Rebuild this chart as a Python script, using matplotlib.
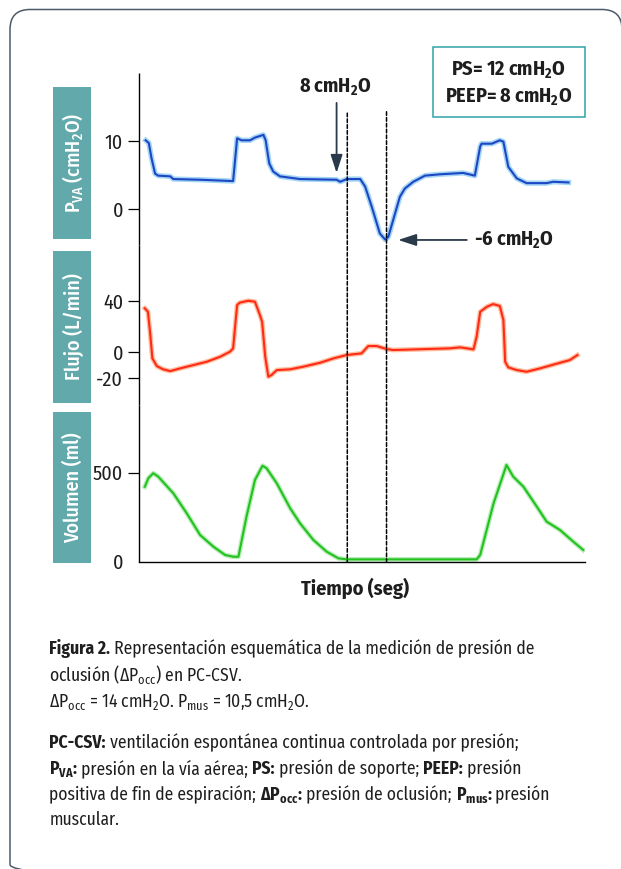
import matplotlib
matplotlib.use('Agg')
import matplotlib.pyplot as plt
from matplotlib import font_manager
from matplotlib.patches import Rectangle, FancyBboxPatch, ConnectionPatch
from matplotlib.transforms import Affine2D

W, H = 621, 869

# condensed humanist font, closest to the original typesetting
names = {f.name for f in font_manager.fontManager.ttflist}
FONT = 'DejaVu Sans'
for cand in ['Fira Sans Condensed', 'PT Sans Narrow', 'Roboto Condensed']:
    if cand in names:
        FONT = cand
        break
plt.rcParams['font.family'] = [FONT, 'DejaVu Sans']
plt.rcParams['mathtext.fontset'] = 'custom'
plt.rcParams['mathtext.rm'] = FONT

# ---------------- data ----------------
# time axis runs 0..10 (arbitrary seconds)
t_pres = [0.15, 0.22, 0.28, 0.36, 0.43, 0.70, 0.77, 1.37, 2.11, 2.20, 2.30, 2.49, 2.60, 2.79,
          2.84, 2.92, 3.01, 3.16, 3.61, 4.43, 4.51, 4.66, 4.96, 5.07, 5.22, 5.40, 5.52, 5.59,
          5.70, 5.85, 5.96, 6.15, 6.41, 6.75, 7.27, 7.53, 7.65, 7.68, 7.91, 8.09, 8.17, 8.28,
          8.47, 8.69, 9.14, 9.29, 9.63]
pres = [10.1, 9.7, 7.5, 5.2, 4.9, 4.8, 4.4, 4.3, 4.1, 10.4, 10.1, 10.1, 10.5, 10.9,
        10.1, 6.7, 5.5, 4.8, 4.4, 4.3, 4.0, 4.4, 4.4, 3.3, 0.3, -3.6, -4.5, -4.1,
        -1.6, 1.8, 3.0, 4.0, 4.9, 5.1, 5.3, 4.9, 9.2, 9.6, 9.6, 10.1, 9.9, 6.2,
        4.5, 3.8, 3.8, 4.0, 3.9]

t_flow = [0.13, 0.20, 0.25, 0.30, 0.40, 0.54, 0.70, 0.92, 1.22, 1.52, 1.82, 2.04, 2.11, 2.20,
          2.26, 2.45, 2.60, 2.71, 2.76, 2.83, 2.90, 2.97, 3.09, 3.39, 3.68, 4.06, 4.36, 4.65,
          4.99, 5.14, 5.33, 5.55, 5.70, 6.97, 7.20, 7.50, 7.57, 7.65, 7.80, 7.94, 8.09, 8.17,
          8.21, 8.28, 8.47, 8.69, 8.99, 9.44, 9.66, 9.83]
flow = [34.3, 31.6, 14.8, -4.7, -10.7, -13.2, -14.6, -12.5, -9.9, -7.3, -3.4, 0.5, 3.1, 36.9,
        38.7, 40.2, 39.4, 29.1, 23.9, -3.4, -19.0, -17.7, -13.8, -13.2, -11.2, -8.1, -4.7, -2.1,
        -0.8, 4.9, 4.9, 2.6, 1.8, 3.1, 3.9, 2.3, 12.2, 31.6, 35.5, 37.6, 36.1, 25.2,
        -7.3, -11.7, -13.8, -15.1, -12.5, -8.1, -6.0, -2.1]

t_vol = [0.13, 0.21, 0.32, 0.43, 0.77, 1.07, 1.37, 1.67, 1.93, 2.11, 2.23, 2.41, 2.60, 2.77,
         2.86, 3.09, 3.39, 3.61, 3.91, 4.21, 4.47, 4.66, 5.85, 7.57, 7.65, 7.95, 8.24, 8.39,
         8.62, 8.92, 9.14, 9.44, 9.74, 9.96]
vol = [421, 469, 497, 478, 384, 272, 150, 84, 38, 28, 28, 253, 459, 539,
       525, 440, 300, 216, 122, 56, 19, 13, 13, 13, 38, 328, 543, 478,
       421, 309, 225, 178, 112, 66]

pres_ticks, pres_labels = [0, 10], ['0', '10']
flow_ticks, flow_labels = [-20, 0, 40], ['-20', '0', '40']
vol_ticks, vol_labels = [0, 500], ['0', '500']

occlusion = [4.67, 5.55]          # dashed lines (start / end of occlusion)
peep_mark = (4.43, 5.3)           # where the "8 cmH2O" arrow points
nadir_mark = (5.81, -4.56)        # where the "-6 cmH2O" arrow points

panel_labels = ['P$_{\\mathregular{VA}}$ (cmH$_{\\mathregular{2}}$O)', 'Flujo (L/min)', 'Volumen (ml)']

TEAL = '#62a9ab'
ARROW = '#2b3a4a'
INK = '#1e1e1e'

fig = plt.figure(figsize=(W / 100, H / 100), dpi=100)
# pixel coords, origin top-left
px = Affine2D().scale(1 / W, -1 / H).translate(0, 1) + fig.transFigure

# outer rounded frame (cut off at right and bottom)
fig.add_artist(FancyBboxPatch((10, 9.5), 612, 875, boxstyle='round,pad=0,rounding_size=20',
                              transform=px, fill=False, ec='#4c5b69', lw=1.1))


def make_axes(top, bottom):
    ax = fig.add_axes([139 / W, 1 - bottom / H, 446 / W, (bottom - top) / H])
    ax.set_facecolor('none')
    for s in ['top', 'right', 'bottom']:
        ax.spines[s].set_visible(False)
    ax.spines['left'].set_linewidth(1.0)
    ax.spines['left'].set_capstyle('butt')
    ax.set_xlim(0, 10)
    ax.set_xticks([])
    ax.tick_params(axis='y', length=8, width=0.9, pad=3.5, labelsize=14.5, labelcolor=INK)
    return ax


ax_p = make_axes(73, 245)
ax_f = make_axes(245, 405)
ax_v = make_axes(405, 561.7)
ax_v.spines['bottom'].set_visible(True)
ax_v.spines['bottom'].set_linewidth(1.0)

ax_p.set_ylim(-5.3, 20)
ax_f.set_ylim(-41, 83.6)
ax_v.set_ylim(0, 880)

ax_p.set_yticks(pres_ticks, pres_labels)
ax_f.set_yticks(flow_ticks, flow_labels)
ax_v.set_yticks(vol_ticks, vol_labels)
ax_v.yaxis.get_major_ticks()[0].tick1line.set_visible(False)

# traces: soft glow + core line
ax_p.plot(t_pres, pres, color='#7cc4f2', lw=3.8, alpha=0.7, solid_joinstyle='round')
ax_p.plot(t_pres, pres, color='#1e46c4', lw=1.5, solid_joinstyle='round')
ax_f.plot(t_flow, flow, color='#ffa070', lw=3.4, alpha=0.7, solid_joinstyle='round')
ax_f.plot(t_flow, flow, color='#ff2a18', lw=1.5, solid_joinstyle='round')
ax_v.plot(t_vol, vol, color='#9be49b', lw=3.4, alpha=0.7, solid_joinstyle='round')
ax_v.plot(t_vol, vol, color='#22c21f', lw=1.5, solid_joinstyle='round')

# dashed occlusion markers through all panels
for x, top in zip(occlusion, [14.1, 14.3]):
    con = ConnectionPatch(xyA=(x, top), coordsA=ax_p.transData, xyB=(x, 0), coordsB=ax_v.transData,
                          color='black', lw=1.1, linestyle=(0, (2.4, 1.4)))
    fig.add_artist(con)

# annotations
aprops = dict(arrowstyle='-|>,head_length=1.1,head_width=0.36', color=ARROW, lw=1.3,
              mutation_scale=10, shrinkA=0, shrinkB=0)
ax_p.annotate('', xy=peep_mark, xytext=(peep_mark[0], 15.6), arrowprops=aprops)
ax_p.text(4.40, 17.9, '8 cmH$_{\\mathregular{2}}$O', ha='center', va='center',
          fontsize=14.5, fontweight='bold', color=INK)
ax_p.annotate('', xy=nadir_mark, xytext=(7.35, nadir_mark[1]), arrowprops=aprops)
ax_p.text(7.50, nadir_mark[1], '-6 cmH$_{\\mathregular{2}}$O', ha='left', va='center',
          fontsize=14.5, fontweight='bold', color=INK)

# settings box
fig.add_artist(Rectangle((433.3, 46.7), 151.7, 70, transform=px, fill=False, ec='#2fa3a6', lw=1.1))
fig.text(508, 70, 'PS= 12 cmH$_{\\mathregular{2}}$O', transform=px, ha='center', va='center',
         fontsize=14.5, fontweight='bold', color=INK)
fig.text(509, 97, 'PEEP= 8 cmH$_{\\mathregular{2}}$O', transform=px, ha='center', va='center',
         fontsize=14.5, fontweight='bold', color=INK)

# teal panel labels
for (top, bottom), lab in zip([(87, 239), (251, 402.7), (412.3, 563.3)], panel_labels):
    fig.add_artist(Rectangle((53, top), 38, bottom - top, transform=px, fc=TEAL, ec='none'))
    fig.text(73, (top + bottom) / 2, lab, transform=px, rotation=90, ha='center', va='center',
             color='white', fontsize=14.5, fontweight=500)

fig.text(355, 588, 'Tiempo (seg)', transform=px, ha='center', va='center',
         fontsize=14.5, fontweight='bold', color=INK)

# caption, mixed bold / regular runs
B, R = 'bold', 'normal'
caption = [
    (649, [('Figura 2.', B), (' Representación esquemática de la medición de presión de', R)]),
    (676, [('oclusión (ΔP$_{\\mathregular{occ}}$) en PC-CSV.', R)]),
    (702, [('ΔP$_{\\mathregular{occ}}$ = 14 cmH$_{\\mathregular{2}}$O. P$_{\\mathregular{mus}}$ = 10,5 cmH$_{\\mathregular{2}}$O.', R)]),
    (743, [('PC-CSV:', B), (' ventilación espontánea continua controlada por presión;', R)]),
    (769, [('P$_{\\mathregular{VA}}$:', B), (' presión en la vía aérea; ', R), ('PS:', B),
           (' presión de soporte; ', R), ('PEEP:', B), (' presión', R)]),
    (795, [('positiva de fin de espiración; ', R), ('ΔP$_{\\mathregular{occ}}$:', B),
           (' presión de oclusión; ', R), ('P$_{\\mathregular{mus}}$:', B), (' presión', R)]),
    (820, [('muscular.', R)]),
]
CAP_SIZE = 12.6
renderer = fig.canvas.get_renderer()


def run_width(s, weight):
    # width including trailing spaces, measured against a sentinel glyph
    a = fig.text(0, 0, s + '|', fontsize=CAP_SIZE, fontweight=weight)
    b = fig.text(0, 0, '|', fontsize=CAP_SIZE, fontweight=weight)
    w = a.get_window_extent(renderer).width - b.get_window_extent(renderer).width
    a.remove()
    b.remove()
    return w


for y, runs in caption:
    x = 49.3
    for s, weight in runs:
        fig.text(x, y + 5, s, transform=px, ha='left', va='baseline', fontsize=CAP_SIZE,
                 fontweight=weight, color=INK)
        x += run_width(s, weight)

fig.savefig('out.png', dpi=100)
